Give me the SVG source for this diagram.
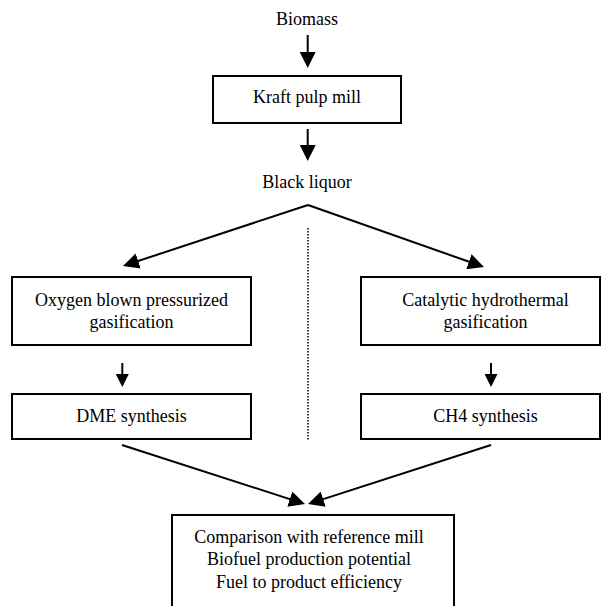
<svg xmlns="http://www.w3.org/2000/svg" width="601" height="606" viewBox="0 0 601 606">
<style>
  .box { fill: #ffffff; stroke: #000000; stroke-width: 2; }
  .lbl { font-family: "Liberation Serif", "Times New Roman", serif; font-size: 18px; fill: #000000; text-anchor: middle; }
  .con { stroke: #000000; stroke-width: 2; fill: none; }
  .big { marker-end: url(#ah); }
  .small { marker-end: url(#ahs); }
  .dot { stroke: #000000; stroke-width: 1.5; stroke-dasharray: 1.5 1.5; fill: none; }
</style>
<defs>
  <marker id="ah" markerUnits="userSpaceOnUse" markerWidth="17" markerHeight="16" refX="13" refY="8" orient="auto">
    <path d="M0,0 L16,8 L0,16 z" fill="#000000"/>
  </marker>
  <marker id="ahs" markerUnits="userSpaceOnUse" markerWidth="14" markerHeight="13" refX="10" refY="6.5" orient="auto">
    <path d="M0,0 L13,6.5 L0,13 z" fill="#000000"/>
  </marker>
</defs>
<rect width="601" height="606" fill="#ffffff"/>

<g id="connectors">
  <line class="con big" x1="307.7" y1="35" x2="307.7" y2="65"/>
  <line class="con big" x1="307.7" y1="129" x2="307.7" y2="158"/>
  <line class="con big" x1="308" y1="205" x2="125.85" y2="265.06"/>
  <line class="con big" x1="308" y1="205" x2="481.17" y2="266"/>
  <line class="con small" x1="122.3" y1="363" x2="122.3" y2="384"/>
  <line class="con small" x1="491" y1="363" x2="491" y2="384"/>
  <line class="con big" x1="122" y1="445" x2="302.14" y2="503.08"/>
  <line class="con big" x1="491" y1="445" x2="310.86" y2="503.08"/>
  <line class="dot" x1="308" y1="228" x2="308" y2="440"/>
</g>

<g id="biomass">
  <text class="lbl" x="307" y="25">Biomass</text>
</g>
<g id="kraft">
  <rect class="box" x="213" y="76" width="188" height="47"/>
  <text class="lbl" x="307" y="103">Kraft pulp mill</text>
</g>
<g id="black-liquor">
  <text class="lbl" x="307" y="188">Black liquor</text>
</g>
<g id="oxygen-gasification">
  <rect class="box" x="12" y="277" width="239" height="68"/>
  <text class="lbl" x="131.5" y="306">Oxygen blown pressurized</text>
  <text class="lbl" x="131.5" y="328">gasification</text>
</g>
<g id="hydrothermal-gasification">
  <rect class="box" x="361" y="277" width="239" height="68"/>
  <text class="lbl" x="485.5" y="306">Catalytic hydrothermal</text>
  <text class="lbl" x="485.5" y="328">gasification</text>
</g>
<g id="dme">
  <rect class="box" x="12" y="394" width="239" height="45"/>
  <text class="lbl" x="131.5" y="422">DME synthesis</text>
</g>
<g id="ch4">
  <rect class="box" x="361" y="394" width="239" height="45"/>
  <text class="lbl" x="485.5" y="422">CH4 synthesis</text>
</g>
<g id="comparison">
  <rect class="box" x="172" y="515" width="282" height="95"/>
  <text class="lbl" x="309" y="543">Comparison with reference mill</text>
  <text class="lbl" x="309" y="565">Biofuel production potential</text>
  <text class="lbl" x="309" y="588">Fuel to product efficiency</text>
</g>
</svg>
